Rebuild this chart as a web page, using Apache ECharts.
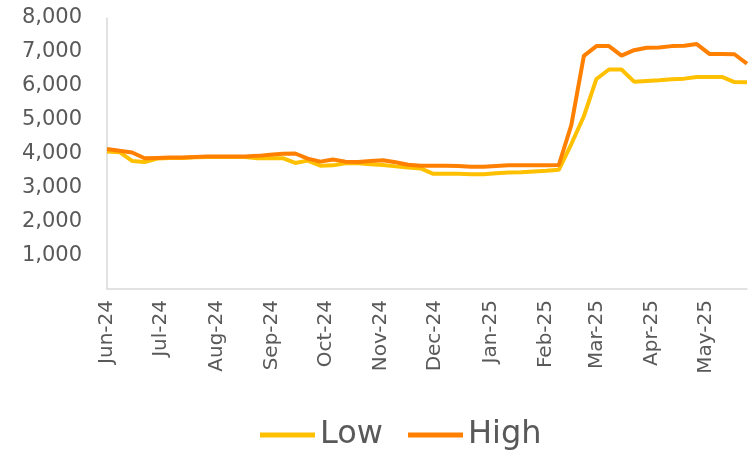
<!DOCTYPE html>
<html>
<head>
<meta charset="utf-8">
<script src="https://cdn.jsdelivr.net/npm/echarts@6/dist/echarts.min.js"></script>
<style>
  html, body { margin: 0; padding: 0; background: #fff; }
  #chart { width: 748px; height: 454px; }
</style>
</head>
<body>
<div id="chart"></div>
<script>
// weekly observations, Saturday dates
const weekDates = [
  '2024-06-01','2024-06-08','2024-06-15','2024-06-22','2024-06-29',
  '2024-07-06','2024-07-13','2024-07-20','2024-07-27',
  '2024-08-03','2024-08-10','2024-08-17','2024-08-24','2024-08-31',
  '2024-09-07','2024-09-14','2024-09-21','2024-09-28',
  '2024-10-05','2024-10-12','2024-10-19','2024-10-26',
  '2024-11-02','2024-11-09','2024-11-16','2024-11-23','2024-11-30',
  '2024-12-07','2024-12-14','2024-12-21','2024-12-28',
  '2025-01-04','2025-01-11','2025-01-18','2025-01-25',
  '2025-02-01','2025-02-08','2025-02-15','2025-02-22',
  '2025-03-01','2025-03-08','2025-03-15','2025-03-22','2025-03-29',
  '2025-04-05','2025-04-12','2025-04-19','2025-04-26',
  '2025-05-03','2025-05-10','2025-05-17','2025-05-24'
];

const lowValues = [
  4060, 4040, 3780, 3750, 3850,
  3870, 3870, 3890, 3900,
  3900, 3900, 3900, 3860, 3860,
  3860, 3720, 3790, 3640,
  3650, 3710, 3710, 3680,
  3660, 3620, 3590, 3560, 3400,
  3400, 3400, 3390, 3390,
  3420, 3440, 3450, 3470,
  3490, 3520, 4280, 5100,
  6200, 6480, 6480, 6120, 6140,
  6160, 6190, 6210, 6260,
  6260, 6260, 6110, 6100
];

const highValues = [
  4130, 4080, 4030, 3860, 3870,
  3880, 3880, 3900, 3910,
  3910, 3910, 3910, 3930, 3960,
  3990, 4000, 3850, 3760,
  3820, 3760, 3750, 3780,
  3800, 3740, 3670, 3640, 3640,
  3640, 3630, 3610, 3610,
  3630, 3650, 3650, 3650,
  3650, 3660, 4840, 6880,
  7170, 7170, 6890, 7050, 7120,
  7130, 7170, 7180, 7230,
  6940, 6940, 6930, 6650
];

const monthNames = ['Jan','Feb','Mar','Apr','May','Jun','Jul','Aug','Sep','Oct','Nov','Dec'];

const chart = echarts.init(document.getElementById('chart'));
const DAY = 86400000;
const textColor = '#595959';
const fontFamily = '"DejaVu Sans", sans-serif';

chart.setOption({
  animation: false,
  grid: { left: 107, right: 1, top: 18, bottom: 165, containLabel: false },
  legend: {
    top: 414,
    left: 255,
    icon: 'rect',
    itemWidth: 55,
    itemHeight: 5,
    itemGap: 25,
    textStyle: { color: textColor, fontSize: 32, fontFamily: fontFamily },
    data: ['Low', 'High']
  },
  xAxis: {
    type: 'time',
    min: '2024-06-01',
    max: '2025-05-24',
    minInterval: 28 * DAY,
    maxInterval: 31 * DAY,
    axisLine: { show: true, lineStyle: { color: '#d9d9d9', width: 1.5 } },
    axisTick: { show: false },
    splitLine: { show: false },
    axisLabel: {
      rotate: 90,
      margin: 11,
      color: textColor,
      fontSize: 20,
      fontFamily: fontFamily,
      hideOverlap: false,
      showMaxLabel: false,
      formatter: function (value) {
        const d = new Date(value);
        return monthNames[d.getMonth()] + '-' + String(d.getFullYear()).slice(2);
      }
    }
  },
  yAxis: {
    type: 'value',
    min: 0,
    max: 8000,
    interval: 1000,
    axisLine: { show: true, lineStyle: { color: '#d9d9d9', width: 1.5 } },
    axisTick: { show: false },
    splitLine: { show: false },
    axisLabel: {
      margin: 25,
      color: textColor,
      fontSize: 21,
      fontFamily: fontFamily,
      formatter: function (v) {
        return v === 0 ? '' : v.toLocaleString('en-US');
      }
    }
  },
  series: [
    {
      name: 'Low',
      type: 'line',
      data: weekDates.map((d, i) => [d, lowValues[i]]),
      showSymbol: false,
      symbol: 'none',
      itemStyle: { color: '#ffc000' },
      lineStyle: { color: '#ffc000', width: 4 }
    },
    {
      name: 'High',
      type: 'line',
      data: weekDates.map((d, i) => [d, highValues[i]]),
      showSymbol: false,
      symbol: 'none',
      itemStyle: { color: '#ff8000' },
      lineStyle: { color: '#ff8000', width: 4 }
    }
  ]
});
</script>
</body>
</html>
